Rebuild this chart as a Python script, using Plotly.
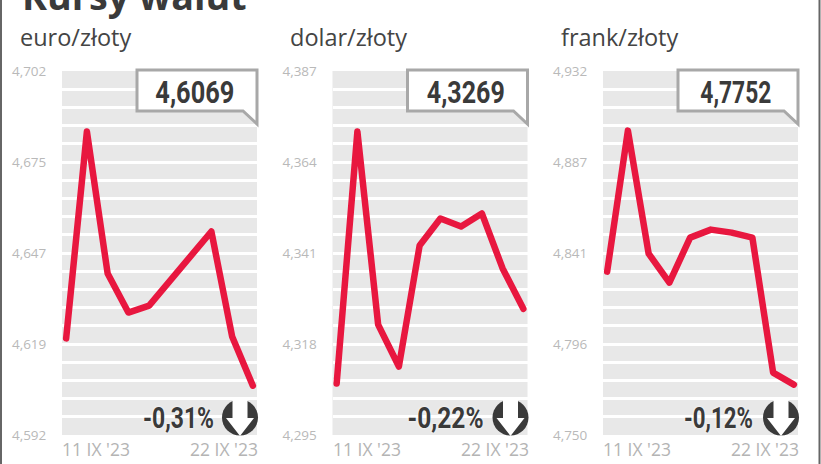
import plotly.graph_objects as go

W, H = 821, 464
dates = ["11 IX", "12 IX", "13 IX", "14 IX", "15 IX", "18 IX", "19 IX", "20 IX", "21 IX", "22 IX"]
first_label = "11 IX '23"
last_label = "22 IX '23"

euro = [4.6212, 4.6837, 4.6408, 4.6290, 4.6311, 4.6384, 4.6460, 4.6535, 4.6218, 4.6069]
dolar = [4.3080, 4.3717, 4.3229, 4.3123, 4.3429, 4.3497, 4.3477, 4.3510, 4.3371, 4.3269]
frank = [4.8317, 4.9022, 4.8407, 4.8262, 4.8487, 4.8527, 4.8512, 4.8487, 4.7812, 4.7752]

euro_ticks = [4.592, 4.619, 4.647, 4.675, 4.702]
dolar_ticks = [4.295, 4.318, 4.341, 4.364, 4.387]
frank_ticks = [4.750, 4.796, 4.841, 4.887, 4.932]

names = ["euro/złoty", "dolar/złoty", "frank/złoty"]
latest = ["4,6069", "4,3269", "4,7752"]
changes = ["-0,31%", "-0,22%", "-0,12%"]
title = "Kursy walut"

series = [euro, dolar, frank]
ticks = [euro_ticks, dolar_ticks, frank_ticks]
lefts = [62, 332.5, 603]
change_offsets = [116, 113, 115.5]
PW = 195
TOP, BOT = 71, 435
RED = "#e8173f"
DARK = "#3a3a3a"
BOLD = "Roboto"
SANS = "Open Sans"


def px(x):
    return x / W


def py(y):
    return 1 - y / H


fig = go.Figure()
anns = []
shapes = []
for i, (vals, tk, left) in enumerate(zip(series, ticks, lefts)):
    n = "" if i == 0 else str(i + 1)
    lo, hi = tk[0], tk[-1]
    step = (hi - lo) / 20
    grid = [lo + step * k for k in range(21)]
    labels = [f"{tk[k // 5]:.3f}".replace(".", ",") if k % 5 == 0 else "" for k in range(21)]
    fig.add_trace(go.Scatter(
        x=list(range(len(vals))), y=vals, mode="lines", xaxis="x" + n, yaxis="y" + n,
        line=dict(color=RED, width=6.5), hoverinfo="skip", showlegend=False,
    ))
    fig.update_layout({
        "xaxis" + n: dict(domain=[px(left), px(left + PW)], range=[-0.2, 9.2], anchor="y" + n,
                          showgrid=False, zeroline=False, showticklabels=False, ticks="", showline=False),
        "yaxis" + n: dict(domain=[py(BOT), py(TOP)], range=[lo, hi], anchor="x" + n,
                          tickmode="array", tickvals=grid, ticktext=labels,
                          showgrid=True, gridcolor="white", gridwidth=3, zeroline=False,
                          ticks="outside", ticklen=12, tickcolor="rgba(0,0,0,0)",
                          tickfont=dict(family=SANS, size=13.5, color="#b9b9b9"), showline=False),
    })
    xa = "x" + n
    anns.append(dict(x=px(left - 44.5), y=py(37), xref="paper", yref="paper", text=names[i], showarrow=False,
                     xanchor="left", yanchor="middle", font=dict(family=SANS, size=23.5, color="#444444")))
    anns.append(dict(x=px(left - 2), y=py(449), xref="paper", yref="paper", text=first_label, showarrow=False,
                     xanchor="left", yanchor="middle", font=dict(family=SANS, size=17.5, color="#b4b4b4")))
    anns.append(dict(x=px(left + PW + 3), y=py(449), xref="paper", yref="paper", text=last_label, showarrow=False,
                     xanchor="right", yanchor="middle", font=dict(family=SANS, size=17.5, color="#b4b4b4")))
    bx0, bx1 = left + 75, left + 195
    path = (f"M {px(bx0)} {py(70)} L {px(bx1)} {py(70)} L {px(bx1)} {py(124)} "
            f"L {px(bx1-14)} {py(111)} L {px(bx0)} {py(111)} Z")
    shapes.append(dict(type="path", xref="paper", yref="paper", path=path, fillcolor="white",
                       line=dict(color="#a8a8a8", width=3), layer="above"))
    anns.append(dict(x=px((bx0 + bx1) / 2 - 2), y=py(91.5), xref="paper", yref="paper", text=f"<b>{latest[i]}</b>",
                     showarrow=False, xanchor="center", yanchor="middle",
                     font=dict(family=BOLD, size=32, color=DARK)))
    anns.append(dict(x=px(left + change_offsets[i]), y=py(417), xref="paper", yref="paper",
                     text=f"<b>{changes[i]}</b>",
                     showarrow=False, xanchor="center", yanchor="middle",
                     font=dict(family=BOLD, size=30, color=DARK, shadow="0 0 3px white")))
    cx, cy, r = left + 178, 417.5, 18
    shapes.append(dict(type="circle", xref="paper", yref="paper", x0=px(cx - r), x1=px(cx + r),
                       y0=py(cy + r), y1=py(cy - r), fillcolor=DARK, line=dict(width=0), layer="above"))
    arrow = (f"M {px(cx-7.5)} {py(398)} L {px(cx+7.5)} {py(398)} L {px(cx+7.5)} {py(418)} L {px(cx+14)} {py(418)} "
             f"L {px(cx)} {py(436)} L {px(cx-14)} {py(418)} L {px(cx-7.5)} {py(418)} Z")
    shapes.append(dict(type="path", xref="paper", yref="paper", path=arrow, fillcolor="white",
                       line=dict(width=0), layer="above"))

anns.append(dict(x=px(20), y=py(23), xref="paper", yref="paper", text=f"<b>{title}</b>", showarrow=False,
                 xanchor="left", yanchor="bottom", font=dict(family=SANS, size=37.7, color=DARK)))
for x in (1, 819.5):
    shapes.append(dict(type="line", xref="paper", yref="paper", x0=px(x), x1=px(x), y0=0, y1=1,
                       line=dict(color="#666666", width=2), layer="above"))

fig.update_layout(width=W, height=H, margin=dict(l=0, r=0, t=0, b=0, autoexpand=False), paper_bgcolor="white",
                  plot_bgcolor="#e8e8e8", annotations=anns, shapes=shapes, showlegend=False)

narrow = """
document.body.style.margin='0';
var widths = {'4,6069':79,'4,3269':78,'4,7752':71,'-0,31%':71,'-0,22%':76,'-0,12%':69};
document.querySelectorAll('.annotation-text').forEach(function(t){
  var w = widths[t.textContent];
  if (w) { t.setAttribute('textLength', w); t.setAttribute('lengthAdjust','spacingAndGlyphs'); }
});
document.querySelectorAll('path.js-line').forEach(function(p){
  p.style.strokeLinecap='round'; p.style.strokeLinejoin='round';
});
"""
fig.write_html("out.html", post_script=narrow, config={"displayModeBar": False})
